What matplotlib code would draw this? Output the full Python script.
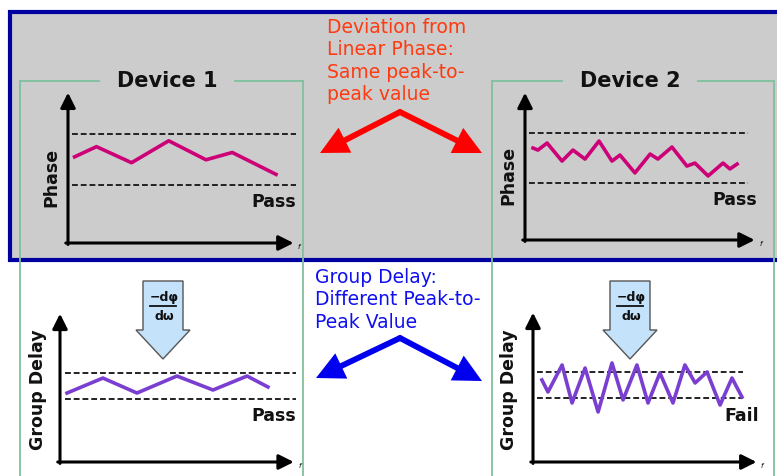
import matplotlib
matplotlib.use("Agg")
import matplotlib.pyplot as plt
import numpy as np
from matplotlib.patches import Rectangle, Polygon

W, H = 777, 476

# data: four little sketches (x in arbitrary time units 0-10, y in arbitrary units 0-10)
phase1_t = [0.3, 1.3, 2.9, 4.6, 6.3, 7.5, 9.5]
phase1_v = [5.9, 6.6, 5.5, 7.0, 5.7, 6.2, 4.7]

phase2_t = [0.36, 0.58, 0.99, 1.66, 2.15, 2.69, 3.32, 3.90, 4.26, 4.93,
            5.61, 5.96, 6.59, 7.26, 7.62, 8.21, 8.88, 9.19, 9.51]
phase2_v = [6.43, 6.29, 6.78, 5.52, 6.29, 5.66, 6.92, 5.52, 5.94, 4.69,
            6.01, 5.66, 6.50, 5.17, 5.38, 4.48, 5.38, 4.97, 5.31]

gd1_t = [0.31, 1.89, 3.39, 5.15, 6.74, 8.24, 9.16]
gd1_v = [4.79, 5.83, 4.79, 5.97, 5.00, 5.97, 5.21]

gd2_t = [0.41, 0.69, 1.34, 1.80, 2.40, 3.00, 3.64, 4.15, 4.79, 5.30,
         5.85, 6.45, 7.00, 7.47, 8.02, 8.62, 9.17, 9.63]
gd2_v = [5.66, 4.83, 6.69, 4.07, 6.48, 3.45, 6.83, 4.28, 6.69, 4.07,
         6.14, 4.07, 6.69, 5.45, 6.21, 3.93, 5.79, 4.48]

phase_limits = [4.0, 7.5]
gd_limits = [4.4, 6.2]

phase_col = "#cc0077"
gd_col = "#7a3fd0"

fig = plt.figure(figsize=(W / 100, H / 100), dpi=100)
bg = fig.add_axes([0, 0, 1, 1])
bg.set_xlim(0, W)
bg.set_ylim(H, 0)
bg.axis("off")

# gray top panel with dark blue border
bg.add_patch(Rectangle((10, 12), 790, 248, facecolor="#cccccc",
                       edgecolor="#0000a0", lw=3))

# green device frames
green = "#80c0a0"
for x0, x1, tx, label in [(20, 303, 167, "Device 1"), (492, 774, 630, "Device 2")]:
    bg.plot([x0, x0], [81, 480], color=green, lw=1.3)
    bg.plot([x1, x1], [81, 480], color=green, lw=1.3)
    bg.plot([x0, tx - 68], [81, 81], color=green, lw=1.3)
    bg.plot([tx + 68, x1], [81, 81], color=green, lw=1.3)
    bg.text(tx, 81, label, ha="center", va="center", fontsize=15,
            fontweight="bold", color="#111111")

# annotation texts
bg.text(327, 18, "Deviation from\nLinear Phase:\nSame peak-to-\npeak value",
        ha="left", va="top", fontsize=13.5, color="#ff3a10", linespacing=1.22)
bg.text(315, 268, "Group Delay:\nDifferent Peak-to-\nPeak Value",
        ha="left", va="top", fontsize=13.5, color="#1010ee", linespacing=1.22)


def fat_arrow(apex, tip, col, head_len=28, head_w=28):
    a = np.array(apex, float)
    t = np.array(tip, float)
    u = (t - a) / np.hypot(*(t - a))
    n = np.array([-u[1], u[0]])
    base = t - head_len * u
    bg.plot([a[0], base[0] + 2 * u[0]], [a[1], base[1] + 2 * u[1]],
            color=col, lw=4.2, solid_capstyle="round")
    bg.add_patch(Polygon([t, base + n * head_w / 2, base - n * head_w / 2],
                         closed=True, facecolor=col, edgecolor="none"))


# V-shaped arrows
for col, apex, left, right in [("#ff0000", (400, 112), (320, 153), (482, 153)),
                               ("#0000ee", (400, 338), (316, 378), (482, 381))]:
    fat_arrow(apex, left, col)
    fat_arrow(apex, right, col)

# light blue derivative arrows
for cx in (163, 630):
    pts = [(cx - 20, 281), (cx + 20, 281), (cx + 20, 330), (cx + 27, 330),
           (cx, 359), (cx - 27, 330), (cx - 20, 330)]
    bg.add_patch(Polygon(pts, closed=True, facecolor="#c4e2fa",
                         edgecolor="#555555", lw=1))
    bg.text(cx + 1, 297, "−dφ", ha="center", va="center", fontsize=9,
            fontweight="bold", color="#111111")
    bg.plot([cx - 13, cx + 13], [306, 306], color="#111111", lw=1.3)
    bg.text(cx + 1, 316, "dω", ha="center", va="center", fontsize=9,
            fontweight="bold", color="#111111")


def px_axes(left, top, right, bottom):
    return fig.add_axes([left / W, 1 - bottom / H, (right - left) / W, (bottom - top) / H])


def sketch(rect, t, v, limits, col, ylabel, lab_xy, verdict, dash_x):
    ax = px_axes(*rect)
    ax.set_xlim(0, 10)
    ax.set_ylim(0, 10)
    ax.axis("off")
    ax.patch.set_alpha(0)
    for lim in limits:
        ax.plot(dash_x, [lim, lim], color="#222222", lw=1.4,
                linestyle=(0, (3, 1.5)), clip_on=False)
    ax.plot(t, v, color=col, lw=2.6, solid_joinstyle="round", clip_on=False)
    ax.annotate("", xy=(0, 10.3), xytext=(0, -0.1), arrowprops=dict(
        arrowstyle="-|>,head_length=0.9,head_width=0.45", color="black", lw=2.2,
        shrinkA=0, shrinkB=0), annotation_clip=False)
    ax.annotate("", xy=(10.3, 0), xytext=(-0.1, 0), arrowprops=dict(
        arrowstyle="-|>,head_length=0.9,head_width=0.45", color="black", lw=2.2,
        shrinkA=0, shrinkB=0), annotation_clip=False)
    ax.text(10.5, -0.3, "f", fontsize=5, style="italic", ha="left", va="center")
    ax.text(lab_xy[0], lab_xy[1], ylabel, rotation=90, ha="center", va="center",
            fontsize=12.5, fontweight="bold", color="#111111")
    ax.text(10.4, limits[0] - 0.6, verdict, ha="right", va="top",
            fontsize=12.5, fontweight="bold", color="#111111")
    return ax


sketch((68, 97, 287, 243), phase1_t, phase1_v, phase_limits, phase_col,
       "Phase", (-0.75, 4.5), "Pass", [0.2, 10.4])
sketch((525, 97, 748, 240), phase2_t, phase2_v, phase_limits, phase_col,
       "Phase", (-0.75, 4.5), "Pass", [0.2, 10.0])
sketch((60, 318, 287, 462), gd1_t, gd1_v, gd_limits, gd_col,
       "Group Delay", (-0.95, 5.0), "Pass", [0.2, 10.4])
sketch((533, 317, 750, 462), gd2_t, gd2_v, gd_limits, gd_col,
       "Group Delay", (-1.1, 5.0), "Fail", [0.2, 9.7])

fig.savefig("out.png", dpi=100)
